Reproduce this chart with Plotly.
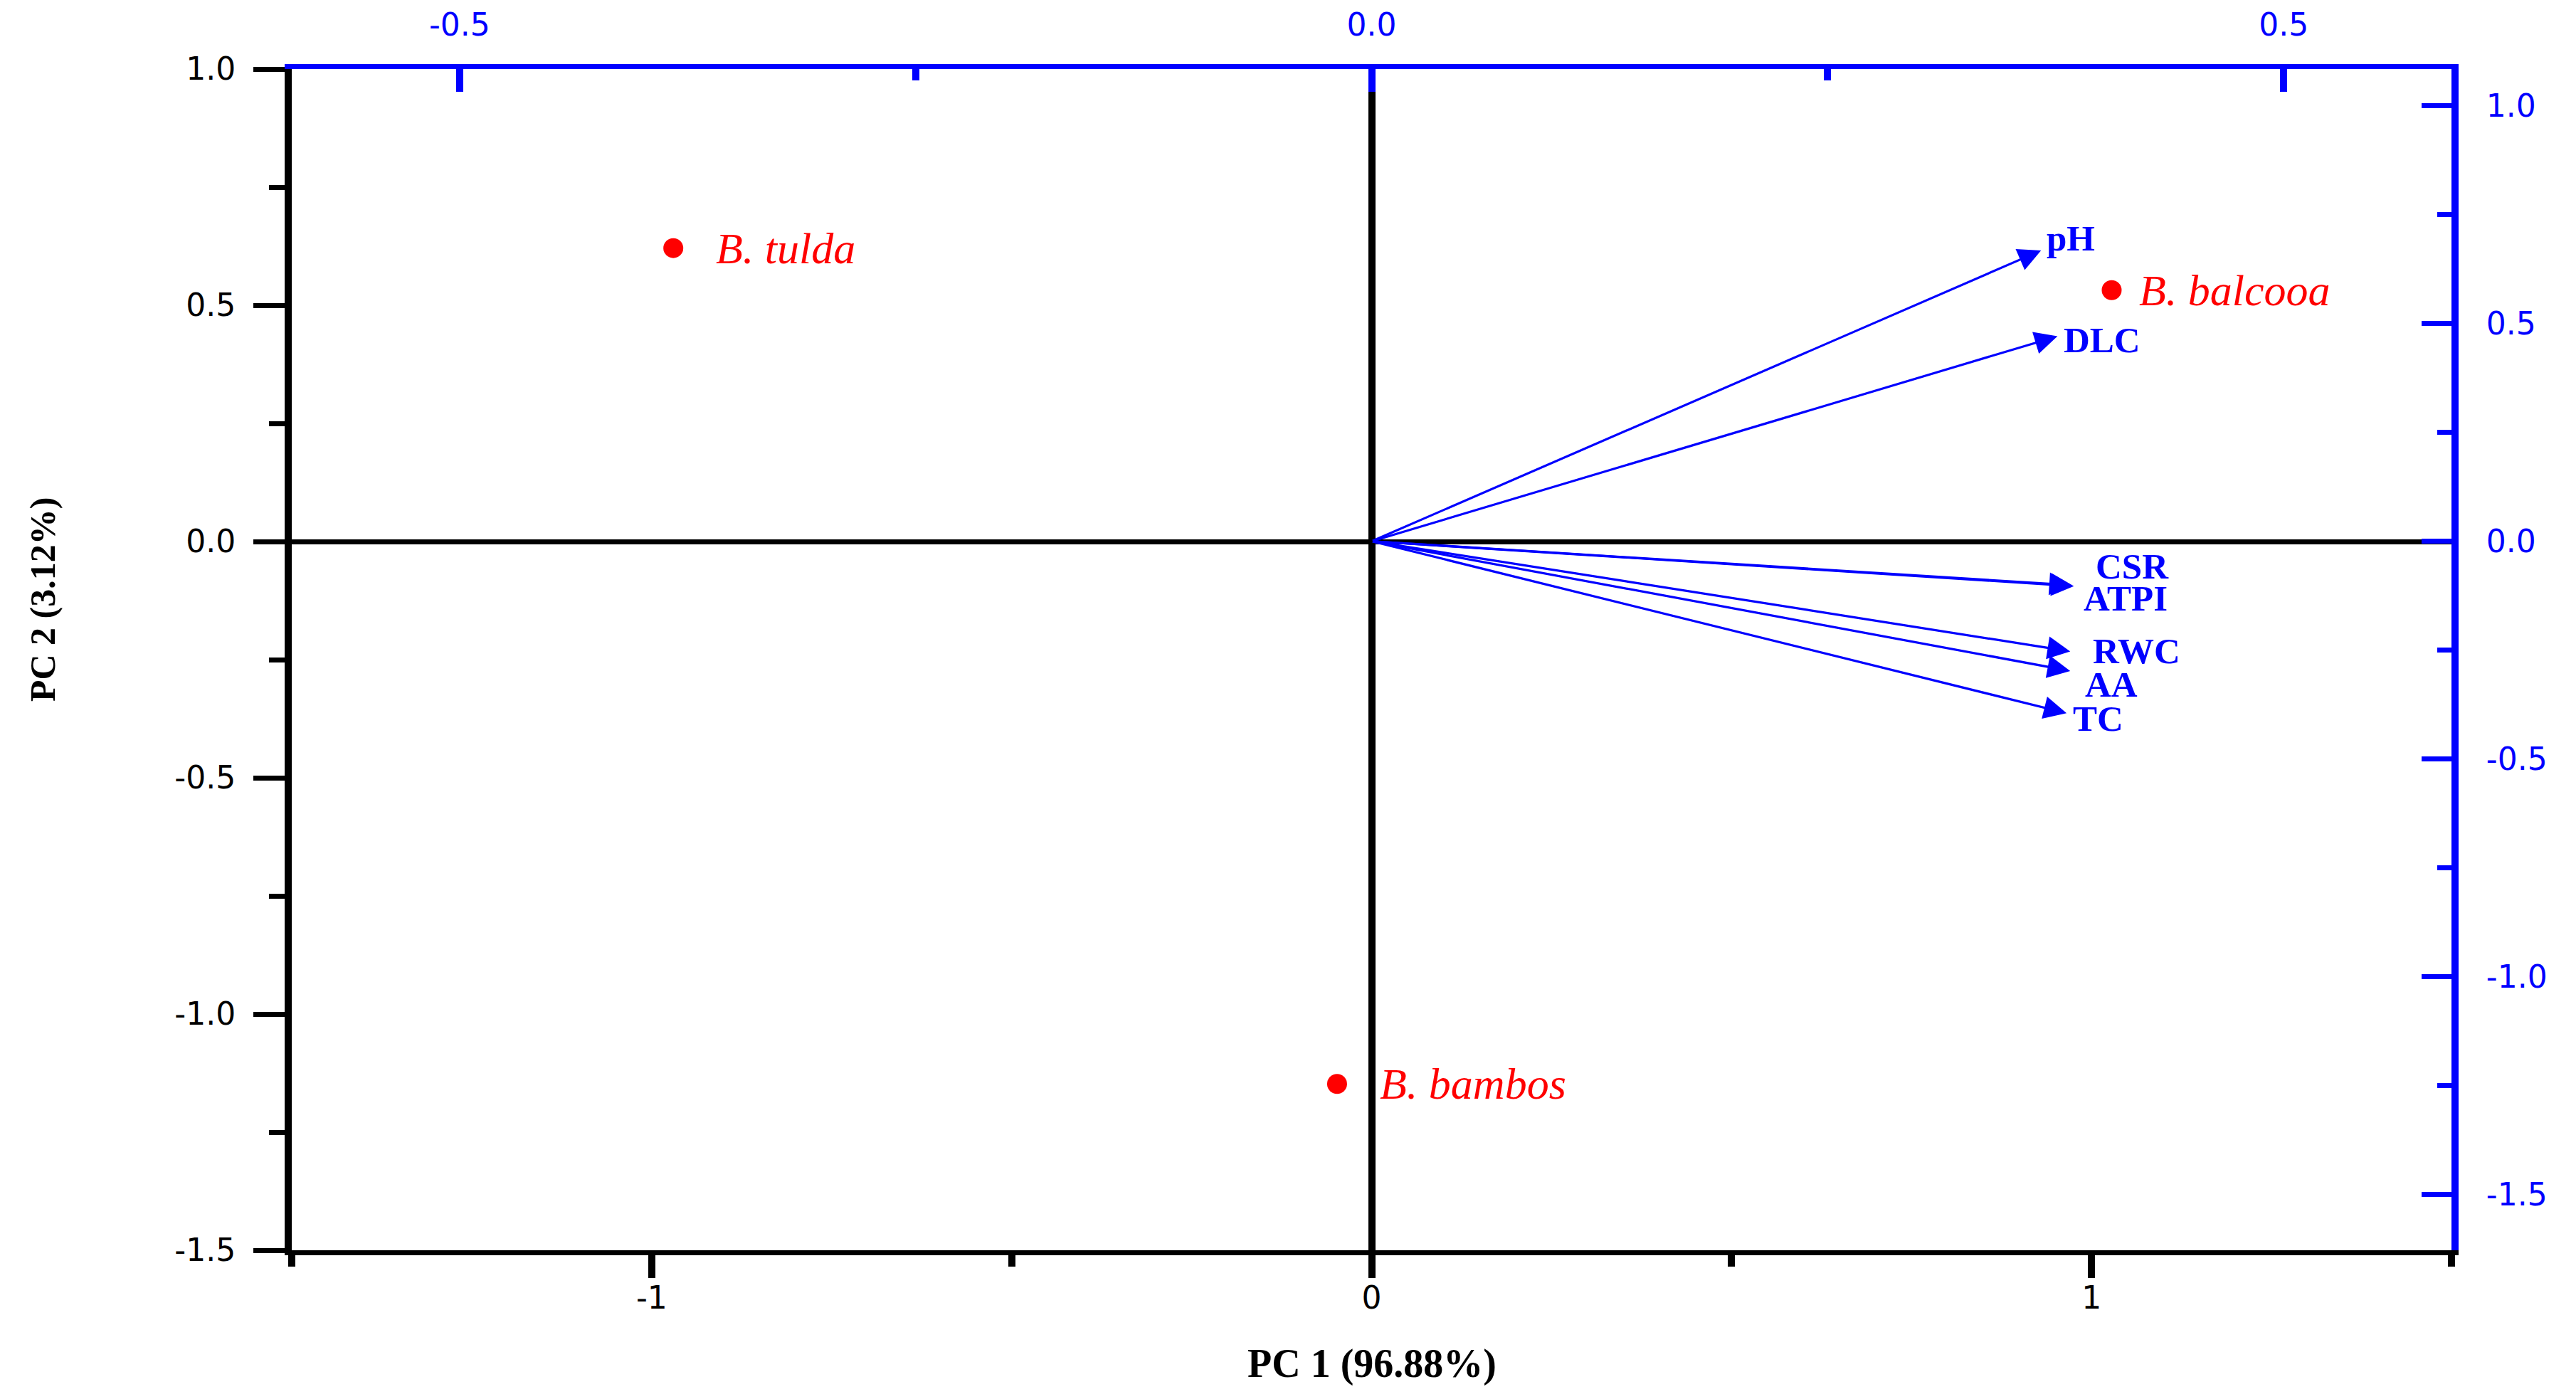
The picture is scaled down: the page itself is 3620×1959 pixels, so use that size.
import plotly.graph_objects as go

# sample scores on PC1 / PC2 (bottom and left axes)
species = ['B. tulda', 'B. balcooa', 'B. bambos']
pc1_scores = [-0.970, 1.028, -0.048]
pc2_scores = [0.621, 0.532, -1.148]

# variable loadings (top and right axes)
variables = ['pH', 'DLC', 'CSR', 'ATPI', 'RWC', 'AA', 'TC']
load_pc1 = [0.367, 0.376, 0.385, 0.384, 0.383, 0.383, 0.381]
load_pc2 = [0.668, 0.471, -0.103, -0.101, -0.253, -0.298, -0.395]

# axis ranges and tick labels
x_range = [-1.5, 1.5]
y_range = [-1.5, 1.0]
x2_range = [-0.592, 0.592]
y2_range = [-1.629, 1.085]

x_ticks = [-1, 0, 1]
x_ticktext = ['-1', '0', '1']
y_ticks = [-1.5, -1.0, -0.5, 0.0, 0.5, 1.0]
y_ticktext = ['-1.5', '-1.0', '-0.5', '0.0', '0.5', '1.0']
x2_ticks = [-0.5, 0.0, 0.5]
x2_ticktext = ['-0.5', '0.0', '0.5']
y2_ticks = [-1.5, -1.0, -0.5, 0.0, 0.5, 1.0]
y2_ticktext = ['-1.5', '-1.0', '-0.5', '0.0', '0.5', '1.0']

BLUE = '#0000ff'
RED = '#ff0000'
tick_font = dict(family='DejaVu Sans', size=44)
serif = 'Liberation Serif, Times New Roman, serif'

# label offsets in pixels (dx, dy) so the names sit beside the arrow tips
var_shift = [(6, 17), (7, -5), (29, 28), (14, -19), (30, 0), (19, -19), (7, -8)]
sp_shift = [58, 37, 58]

fig = go.Figure()

fig.add_trace(go.Scatter(
    x=pc1_scores, y=pc2_scores, mode='markers', xaxis='x', yaxis='y',
    marker=dict(size=28, color=RED), hoverinfo='skip', showlegend=False
))
# invisible trace so the secondary axes get drawn
fig.add_trace(go.Scatter(
    x=load_pc1, y=load_pc2, mode='markers', xaxis='x2', yaxis='y2',
    marker=dict(size=1, color='rgba(0,0,0,0)'), hoverinfo='skip', showlegend=False
))

annotations = []
for v, px, py, (dx, dy) in zip(variables, load_pc1, load_pc2, var_shift):
    annotations.append(dict(
        x=px, y=py, xref='x2', yref='y2', ax=0, ay=0, axref='x2', ayref='y2',
        showarrow=True, arrowhead=2, arrowsize=2.0, arrowwidth=3.2, arrowcolor=BLUE,
        standoff=0, startstandoff=0, text=''
    ))
    annotations.append(dict(
        x=px, y=py, xref='x2', yref='y2', showarrow=False, text='<b>%s</b>' % v,
        xanchor='left', yanchor='middle', xshift=dx, yshift=dy,
        font=dict(family=serif, size=51, color=BLUE)
    ))

for s, px, py, dx in zip(species, pc1_scores, pc2_scores, sp_shift):
    annotations.append(dict(
        x=px, y=py, xref='x', yref='y', showarrow=False, text='<i>%s</i>' % s,
        xanchor='left', yanchor='middle', xshift=dx,
        font=dict(family=serif, size=62, color=RED)
    ))

# axis titles
annotations.append(dict(
    x=0.5, y=-0.0958, xref='paper', yref='paper', showarrow=False,
    text='<b>PC 1 (96.88%)</b>', xanchor='center', yanchor='middle',
    font=dict(family=serif, size=56, color='black')
))
annotations.append(dict(
    x=-0.1153, y=0.5506, xref='paper', yref='paper', showarrow=False,
    text='<b>PC 2 (3.12%)</b>', textangle=-90, xanchor='center', yanchor='middle',
    font=dict(family=serif, size=50, color='black')
))

# the page body adds an 8px margin, so the figure is 16px smaller than the window
fig.update_layout(
    width=3604, height=1943,
    margin=dict(l=402, r=167, t=89, b=194),
    paper_bgcolor='white', plot_bgcolor='white',
    showlegend=False,
    annotations=annotations,
    xaxis=dict(
        range=x_range, showgrid=False, automargin=False,
        tickmode='array', tickvals=x_ticks, ticktext=x_ticktext,
        showline=True, linecolor='black', linewidth=7,
        zeroline=True, zerolinecolor='black', zerolinewidth=10,
        ticks='outside', ticklen=32, tickwidth=10, tickcolor='black',
        minor=dict(dtick=0.5, tick0=0, ticks='outside', ticklen=16, tickwidth=10, tickcolor='black'),
        tickfont=dict(tick_font, color='black'), ticklabelstandoff=-10,
    ),
    yaxis=dict(
        range=y_range, showgrid=False, automargin=False,
        tickmode='array', tickvals=y_ticks, ticktext=y_ticktext,
        showline=True, linecolor='black', linewidth=10,
        zeroline=True, zerolinecolor='black', zerolinewidth=7,
        ticks='outside', ticklen=44, tickwidth=7, tickcolor='black',
        minor=dict(dtick=0.25, tick0=0, ticks='outside', ticklen=22, tickwidth=7, tickcolor='black'),
        tickfont=dict(tick_font, color='black'), ticklabelstandoff=16,
    ),
    xaxis2=dict(
        range=x2_range, overlaying='x', side='top', anchor='y', automargin=False,
        tickmode='array', tickvals=x2_ticks, ticktext=x2_ticktext,
        showgrid=False, zeroline=False,
        showline=True, linecolor=BLUE, linewidth=7,
        ticks='inside', ticklen=32, tickwidth=10, tickcolor=BLUE,
        minor=dict(dtick=0.25, tick0=0, ticks='inside', ticklen=16, tickwidth=10, tickcolor=BLUE),
        tickfont=dict(tick_font, color=BLUE), ticklabelstandoff=22,
    ),
    yaxis2=dict(
        range=y2_range, overlaying='y', side='right', anchor='x', automargin=False,
        tickmode='array', tickvals=y2_ticks, ticktext=y2_ticktext,
        showgrid=False, zeroline=False,
        showline=True, linecolor=BLUE, linewidth=10,
        ticks='inside', ticklen=42, tickwidth=7, tickcolor=BLUE,
        minor=dict(dtick=0.25, tick0=0, ticks='inside', ticklen=20, tickwidth=7, tickcolor=BLUE),
        tickfont=dict(tick_font, color=BLUE), ticklabelstandoff=30,
    ),
)

fig.write_html("out.html")
